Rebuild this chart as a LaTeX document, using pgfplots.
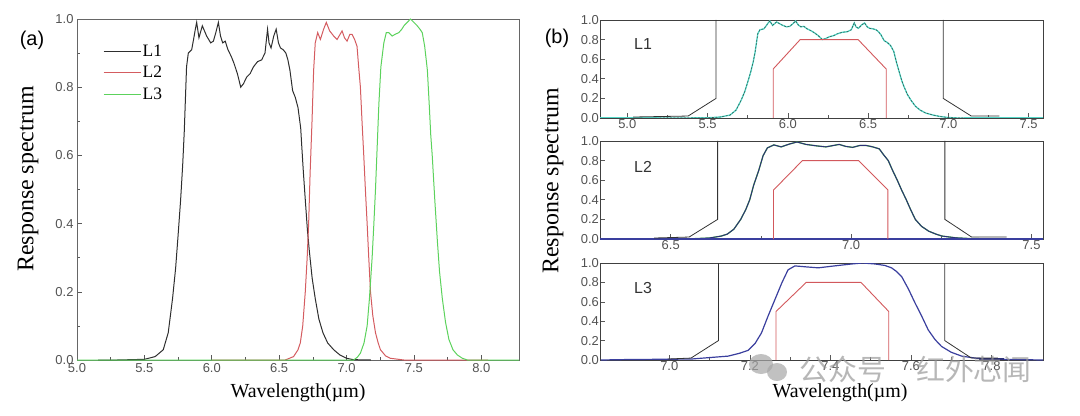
\documentclass[border=0pt]{standalone}
\usepackage{fontspec}
\setmainfont{Liberation Sans}
\newfontfamily\tnr{Liberation Serif}
\newfontfamily\cjk{Noto Sans CJK SC}
\usepackage{pgfplots}
\pgfplotsset{compat=1.18}
\definecolor{cLone}{HTML}{2E2E2E}
\definecolor{cLtwo}{HTML}{D45C60}
\definecolor{cLthree}{HTML}{5CD25C}
\definecolor{cCyan}{HTML}{52D6C6}
\definecolor{cNavy}{HTML}{2C2F78}
\definecolor{cBlue}{HTML}{3A3F9E}
\definecolor{cTeal}{HTML}{2F5E55}
\definecolor{cTrap}{HTML}{D2585C}

\pgfplotstableread{
x y
5.156 0
5.3 0
5.5 0.002
5.58 0.01
5.64 0.03
5.677 0.08
5.709 0.18
5.732 0.27
5.751 0.37
5.769 0.47
5.784 0.57
5.796 0.67
5.804 0.76
5.813 0.86
5.826 0.90
5.851 0.91
5.865 0.94
5.878 0.97
5.888 0.99
5.905 0.945
5.93 0.98
5.962 0.95
5.992 0.93
6.012 0.935
6.03 0.96
6.049 0.99
6.065 0.95
6.081 0.93
6.1 0.935
6.12 0.91
6.145 0.89
6.165 0.87
6.19 0.84
6.215 0.80
6.235 0.81
6.26 0.83
6.285 0.84
6.31 0.86
6.34 0.875
6.37 0.88
6.395 0.90
6.414 0.97
6.425 0.93
6.44 0.915
6.46 0.95
6.478 0.97
6.495 0.93
6.51 0.915
6.53 0.91
6.55 0.90
6.565 0.88
6.58 0.85
6.6 0.79
6.62 0.77
6.64 0.74
6.66 0.68
6.669 0.62
6.68 0.55
6.694 0.47
6.71 0.38
6.724 0.32
6.745 0.24
6.768 0.18
6.795 0.12
6.825 0.08
6.86 0.05
6.905 0.03
6.95 0.015
7.0 0.005
7.05 0.001
7.18 0
}\Lone

\pgfplotstableread{
x y
6.0 0
6.545 0
6.607 0.01
6.64 0.03
6.657 0.05
6.675 0.1
6.694 0.2
6.708 0.3
6.719 0.4
6.73 0.55
6.744 0.7
6.756 0.85
6.768 0.93
6.786 0.96
6.806 0.94
6.83 0.97
6.850 0.99
6.875 0.965
6.905 0.95
6.93 0.94
6.967 0.965
6.985 0.945
7.004 0.935
7.025 0.955
7.041 0.955
7.06 0.94
7.078 0.92
7.09 0.86
7.103 0.8
7.115 0.7
7.128 0.6
7.14 0.5
7.153 0.4
7.165 0.3
7.178 0.2
7.195 0.13
7.215 0.08
7.235 0.05
7.252 0.03
7.29 0.012
7.326 0.005
7.426 0
8.05 0
}\Ltwo

\pgfplotstableread{
x y
5.0 0
7.053 0
7.08 0.008
7.103 0.02
7.13 0.05
7.153 0.1
7.17 0.18
7.19 0.3
7.203 0.4
7.215 0.5
7.228 0.63
7.24 0.75
7.255 0.86
7.277 0.93
7.295 0.96
7.314 0.96
7.339 0.95
7.36 0.955
7.388 0.96
7.41 0.97
7.426 0.98
7.45 0.99
7.475 1.0
7.5 0.99
7.525 0.98
7.545 0.97
7.562 0.96
7.58 0.92
7.6 0.85
7.615 0.74
7.625 0.66
7.636 0.6
7.655 0.47
7.674 0.35
7.69 0.26
7.711 0.18
7.735 0.11
7.76 0.06
7.79 0.03
7.822 0.015
7.86 0.005
7.897 0
8.28 0
}\Lthree

\pgfplotstableread{
x y
6.83 0
6.9 0.005
7.0 0.008
7.055 0.01
7.1 0.025
7.146 0.04
7.175 0.07
7.196 0.1
7.213 0.17
7.229 0.28
7.245 0.45
7.262 0.62
7.28 0.8
7.295 0.93
7.312 0.97
7.34 0.96
7.37 0.95
7.41 0.97
7.453 0.99
7.48 1.0
7.511 0.99
7.535 0.975
7.552 0.95
7.565 0.91
7.577 0.86
7.594 0.73
7.61 0.59
7.627 0.45
7.643 0.31
7.66 0.21
7.676 0.14
7.7 0.08
7.726 0.04
7.759 0.02
7.8 0.01
7.85 0.005
7.928 0
}\Lthreeb

\pgfplotsset{
  base/.style={
    scale only axis,
    axis line style={draw=black!60, line width=0.8bp},
    tick style={black!65, line width=0.6bp},
    tick align=inside,
    tick pos=left,
    major tick length=5bp,
    minor tick length=3bp,
    ticklabel style={font=\fontsize{13}{13}\selectfont, text=black!68},
    /pgf/number format/assume math mode=true,
    /pgf/number format/fixed,
    /pgf/number format/fixed zerofill,
    /pgf/number format/precision=1,
    ymin=0, ymax=1,
    clip=true,
  },
  small/.style={
    base,
    width=443bp, height=98bp,
    ytick={0,0.2,0.4,0.6,0.8,1.0},
    minor x tick num=1,
    axis line style={draw=black!75, line width=0.8bp},
    xticklabel style={inner sep=1bp},
    yticklabel style={inner sep=1bp},
  },
}

\begin{document}
\begin{tikzpicture}[x=1bp,y=1bp]
\path[use as bounding box] (0,0) rectangle (1080,415);

% ---------- panel (a) ----------
\begin{axis}[base,
  at={(77bp,396bp)}, anchor=north west,
  width=442bp, height=341bp,
  xmin=5.0, xmax=8.28,
  xtick={5.0,5.5,6.0,6.5,7.0,7.5,8.0},
  ytick={0,0.2,0.4,0.6,0.8,1.0},
  minor x tick num=1, minor y tick num=1,
  legend style={at={(0.052,0.935)}, anchor=north west, draw=none, fill=none,
    font=\tnr\fontsize{17.5}{17.5}\selectfont, row sep=5.5bp,
    nodes={inner sep=1.5bp}},
  legend cell align=left,
  legend image code/.code={\draw[#1] (0bp,0bp) -- (37bp,0bp);},
]
\addplot[cLone, line width=1bp] table {\Lone};
\addplot[cLtwo, line width=1bp] table {\Ltwo};
\addplot[cLthree, line width=1bp] table {\Lthree};
\legend{L1,L2,L3}
\end{axis}

% ---------- panel (b) L1 ----------
\begin{axis}[small,
  at={(600bp,395bp)}, anchor=north west,
  xmin=4.83, xmax=7.59,
  xtick={5.0,5.5,6.0,6.5,7.0,7.5},
]
\addplot[cCyan, line width=1.3bp] table {\Lone};
\addplot[cTeal, line width=0.6bp, dash pattern=on 2bp off 1.5bp] table {\Lone};
\addplot[cCyan, line width=1.3bp] coordinates {(4.83,0) (5.2,0)};
\addplot[cCyan, line width=1.3bp] coordinates {(7.1,0) (7.59,0)};
\addplot[black!80, line width=0.8bp] coordinates {(5.036,0.01) (5.379,0.02) (5.553,0.2) (5.553,1.0)};
\addplot[black!80, line width=0.8bp] coordinates {(6.968,1.0) (6.968,0.2) (7.143,0.02) (7.318,0.02)};
\addplot[cTrap, line width=0.9bp] coordinates {(5.909,0) (5.909,0.5) (6.077,0.8) (6.438,0.8) (6.613,0.5) (6.613,0)};
\end{axis}

% ---------- panel (b) L2 ----------
\begin{axis}[small,
  at={(600bp,274bp)}, anchor=north west,
  xmin=6.304, xmax=7.532,
  xtick={6.5,7.0,7.5},
]
\addplot[cLthree!80!black, line width=1.3bp] table {\Ltwo};
\addplot[cNavy, line width=0.9bp] table {\Ltwo};
\addplot[cBlue, line width=1.1bp] coordinates {(6.304,0) (7.532,0)};
\addplot[black!80, line width=0.8bp] coordinates {(6.454,0.01) (6.551,0.02) (6.63,0.2) (6.63,1.0)};
\addplot[black!80, line width=0.8bp] coordinates {(7.26,1.0) (7.26,0.2) (7.334,0.02) (7.431,0.02)};
\addplot[cTrap, line width=0.9bp] coordinates {(6.785,0) (6.785,0.5) (6.865,0.8) (7.021,0.8) (7.102,0.5) (7.102,0)};
\end{axis}

% ---------- panel (b) L3 ----------
\begin{axis}[small,
  at={(600bp,152bp)}, anchor=north west,
  height=97bp,
  xmin=6.828, xmax=7.928,
  xtick={7.0,7.2,7.4,7.6,7.8},
]
\addplot[cBlue, line width=1.2bp] table {\Lthreeb};
\addplot[cNavy, line width=2.2bp] coordinates {(7.77,0.01) (7.83,0.01)};
\addplot[black!80, line width=0.8bp] coordinates {(6.996,0.01) (7.054,0.02) (7.122,0.2) (7.122,1.0)};
\addplot[black!80, line width=0.8bp] coordinates {(7.684,1.0) (7.684,0.2) (7.75,0.02) (7.816,0.02)};
\addplot[cTrap, line width=0.9bp] coordinates {(7.265,0) (7.265,0.5) (7.34,0.8) (7.476,0.8) (7.545,0.5) (7.545,0)};
\end{axis}

% ---------- texts ----------
\node[rotate=90, font=\tnr\fontsize{24}{24}\selectfont] at (28,236) {Response spectrum};
\node[font=\tnr\fontsize{20}{20}\selectfont] at (298,22) {Wavelength(µm)};
\node[rotate=90, font=\tnr\fontsize{24}{24}\selectfont] at (553,234) {Response spectrum};
\node[font=\tnr\fontsize{20}{20}\selectfont] at (840,22) {Wavelength(µm)};
\node[font=\fontsize{20}{20}\selectfont] at (32,375) {(a)};
\node[font=\fontsize{20}{20}\selectfont] at (557,377) {(b)};
\node[font=\fontsize{16}{16}\selectfont, text=black!80] at (643,371) {L1};
\node[font=\fontsize{16}{16}\selectfont, text=black!80] at (643,248) {L2};
\node[font=\fontsize{16}{16}\selectfont, text=black!80] at (643,127) {L3};
% watermark
\fill[black!35, opacity=0.7] (761,51) ellipse (12 and 10);
\fill[black!35, opacity=0.7] (777,43) ellipse (10 and 9);
\node[font=\cjk\fontsize{29}{29}\selectfont, text=black!40, opacity=0.7, anchor=west] at (796,46) {公众号\hspace{30bp}红外芯闻};
\end{tikzpicture}
\end{document}
